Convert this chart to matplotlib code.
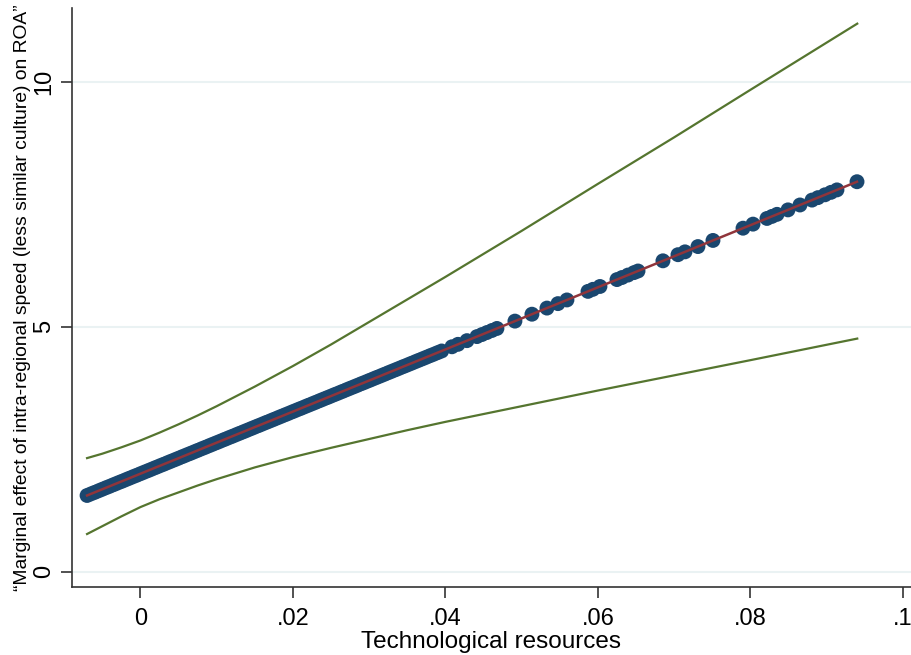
import matplotlib.pyplot as plt
import numpy as np

plt.rcParams['font.family'] = ['Liberation Sans', 'DejaVu Sans']

################################### DATA ###################################
# technological resources values of the observations (dense part, then sparse tail)
tech = [-0.0070, -0.0065, -0.0060, -0.0055, -0.0050, -0.0045, -0.0040, -0.0035,
        -0.0030, -0.0025, -0.0020, -0.0015, -0.0010, -0.0005, 0.0000, 0.0005,
        0.0010, 0.0015, 0.0020, 0.0025, 0.0030, 0.0035, 0.0040, 0.0045,
        0.0050, 0.0055, 0.0060, 0.0065, 0.0070, 0.0075, 0.0080, 0.0085,
        0.0090, 0.0095, 0.0100, 0.0105, 0.0110, 0.0115, 0.0120, 0.0125,
        0.0130, 0.0135, 0.0140, 0.0145, 0.0150, 0.0155, 0.0160, 0.0165,
        0.0170, 0.0175, 0.0180, 0.0185, 0.0190, 0.0195, 0.0200, 0.0205,
        0.0210, 0.0215, 0.0220, 0.0225, 0.0230, 0.0235, 0.0240, 0.0245,
        0.0250, 0.0255, 0.0260, 0.0265, 0.0270, 0.0275, 0.0280, 0.0285,
        0.0290, 0.0295, 0.0300, 0.0305, 0.0310, 0.0315, 0.0320, 0.0325,
        0.0330, 0.0335, 0.0340, 0.0345, 0.0350, 0.0355, 0.0360, 0.0365,
        0.0370, 0.0375, 0.0380, 0.0385, 0.0390, 0.0395,
        0.04085, 0.04164, 0.04282, 0.04413, 0.04479, 0.04544, 0.04610,
        0.04675, 0.04911, 0.05134, 0.05331, 0.05475, 0.05593, 0.05869,
        0.05934, 0.06026, 0.06249, 0.06315, 0.06393, 0.06472, 0.06525,
        0.06852, 0.07049, 0.07141, 0.07311, 0.07508, 0.07902, 0.08033,
        0.08216, 0.08282, 0.08348, 0.08492, 0.08649, 0.08807, 0.08885,
        0.08977, 0.09056, 0.09134, 0.09397]

# marginal effect at each observation
effect = [1.557, 1.589, 1.620, 1.652, 1.684, 1.716, 1.747, 1.779,
          1.811, 1.842, 1.874, 1.906, 1.938, 1.969, 2.001, 2.033,
          2.064, 2.096, 2.128, 2.160, 2.191, 2.223, 2.255, 2.286,
          2.318, 2.350, 2.382, 2.413, 2.445, 2.477, 2.509, 2.540,
          2.572, 2.604, 2.635, 2.667, 2.699, 2.731, 2.762, 2.794,
          2.826, 2.857, 2.889, 2.921, 2.953, 2.984, 3.016, 3.048,
          3.079, 3.111, 3.143, 3.175, 3.206, 3.238, 3.270, 3.302,
          3.333, 3.365, 3.397, 3.428, 3.460, 3.492, 3.524, 3.555,
          3.587, 3.619, 3.650, 3.682, 3.714, 3.746, 3.777, 3.809,
          3.841, 3.872, 3.904, 3.936, 3.968, 3.999, 4.031, 4.063,
          4.095, 4.126, 4.158, 4.190, 4.221, 4.253, 4.285, 4.317,
          4.348, 4.380, 4.412, 4.443, 4.475, 4.507,
          4.593, 4.643, 4.718, 4.801, 4.843, 4.884, 4.926,
          4.967, 5.117, 5.258, 5.383, 5.474, 5.549, 5.724,
          5.766, 5.824, 5.965, 6.007, 6.057, 6.107, 6.140,
          6.348, 6.473, 6.531, 6.639, 6.764, 7.014, 7.097,
          7.213, 7.255, 7.297, 7.388, 7.488, 7.588, 7.638,
          7.696, 7.746, 7.796, 7.963]

# confidence bounds
ci_x = [-0.007, -0.005, -0.0025, 0.0, 0.0025, 0.005, 0.0075, 0.01, 0.015,
        0.02, 0.025, 0.03, 0.035, 0.04, 0.05, 0.06, 0.07, 0.08, 0.094]
ci_upper = [2.32, 2.41, 2.54, 2.68, 2.84, 3.01, 3.19, 3.38, 3.78,
            4.20, 4.64, 5.10, 5.56, 6.02, 6.96, 7.92, 8.87, 9.84, 11.19]
ci_lower = [0.77, 0.93, 1.13, 1.32, 1.48, 1.62, 1.76, 1.89, 2.13,
            2.34, 2.53, 2.71, 2.89, 3.06, 3.38, 3.70, 4.01, 4.32, 4.76]

xticks = [0, 0.02, 0.04, 0.06, 0.08, 0.1]
xtick_labels = ['0', '.02', '.04', '.06', '.08', '.1']
yticks = [0, 5, 10]
############################################################################

######################################## PLOT ##############################
fig = plt.figure(figsize=(9.11, 6.55), dpi=100)
ax = fig.add_axes([0.079, 0.1038, 0.921, 0.884])

for y in yticks:
    ax.axhline(y, color='#eaf2f3', lw=1.5, zorder=0)

ax.plot(ci_x, ci_upper, color='#55752f', lw=1.6, zorder=2)
ax.plot(ci_x, ci_lower, color='#55752f', lw=1.6, zorder=2)
ax.scatter(tech, effect, s=115, color='#1a476f', edgecolors='none', zorder=3)
ax.plot(tech, effect, color='#90353b', lw=1.8, zorder=4)

ax.set_xlim(-0.00898, 0.10105)
ax.set_ylim(-0.312, 11.51)

ax.set_xticks(xticks)
ax.set_xticklabels(xtick_labels)
ax.set_yticks(yticks)
ax.set_yticklabels([str(y) for y in yticks])
for lab in ax.get_yticklabels():
    lab.set_rotation(90)
    lab.set_va('center')

ax.tick_params(axis='both', length=8, width=1.2, color='#333333',
               labelsize=17, labelcolor='black')
ax.tick_params(axis='x', pad=7)
ax.tick_params(axis='y', pad=4)

for side in ['top', 'right']:
    ax.spines[side].set_visible(False)
for side in ['left', 'bottom']:
    ax.spines[side].set_color('#333333')
    ax.spines[side].set_linewidth(1.2)

ax.set_xlabel('Technological resources', fontsize=17.5, labelpad=1)
ax.set_ylabel('\u201cMarginal effect of intra-regional speed (less similar culture) on ROA\u201d',
              fontsize=13.9, labelpad=2)

plt.savefig('out.png', dpi=100)
############################################################################
